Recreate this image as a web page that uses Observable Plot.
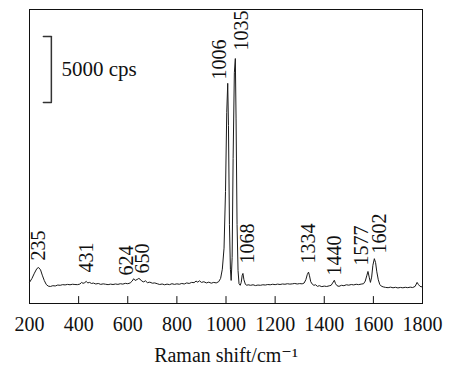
<!DOCTYPE html>
<html><head><meta charset="utf-8">
<script src="https://cdn.jsdelivr.net/npm/d3@7"></script>
<script src="https://cdn.jsdelivr.net/npm/@observablehq/plot@0.6"></script>
<style>body{margin:0;background:#fff} svg text{font-family:"Liberation Serif","DejaVu Serif",serif !important;}</style>
</head><body><div id="chart"></div>
<script>
// Raman spectrum: shift (cm^-1) and intensity (cps)
const shift = [200,210,220,230,237,245,252,260,268,276,285,295,305,315,325,335,345,355,365,375,385,395,405,412,418,425,431,437,445,452,460,470,480,490,500,510,520,530,540,550,560,570,580,590,600,610,618,624,630,638,645,650,657,665,672,680,690,700,710,720,730,740,750,760,770,780,790,800,810,820,830,840,850,860,870,878,885,892,900,910,920,930,940,950,960,970,978,985,992,998,1003,1007,1010,1014,1018,1021,1025,1029,1034,1038,1041,1045,1049,1053,1058,1062,1066,1069,1073,1079,1085,1090,1100,1110,1120,1130,1140,1150,1160,1170,1180,1190,1200,1210,1220,1230,1240,1250,1260,1270,1280,1290,1300,1310,1318,1325,1331,1336,1340,1345,1352,1358,1365,1372,1380,1390,1400,1410,1420,1428,1434,1441,1446,1452,1460,1470,1480,1490,1500,1510,1520,1530,1540,1550,1560,1567,1573,1578,1583,1588,1593,1598,1604,1609,1614,1620,1626,1632,1640,1650,1660,1670,1680,1690,1700,1710,1720,1730,1740,1750,1760,1770,1778,1783,1790,1800];
const intensity = [1600,1900,2300,2650,2730,2550,2150,1750,1450,1320,1290,1350,1330,1400,1380,1430,1410,1450,1420,1460,1440,1430,1470,1600,1530,1580,1680,1560,1600,1520,1550,1480,1520,1450,1490,1460,1430,1470,1440,1480,1450,1500,1470,1530,1500,1560,1700,1880,1750,1820,1900,1850,1700,1640,1720,1580,1620,1540,1560,1500,1440,1480,1420,1470,1430,1500,1450,1490,1460,1520,1480,1560,1520,1600,1580,1700,1620,1720,1600,1650,1560,1620,1540,1600,1560,1650,1900,2600,4200,8500,14500,16700,13500,6000,2600,1750,3500,11000,17500,18580,14000,6000,2500,1500,1380,1600,2150,2280,1800,1450,1380,1420,1380,1420,1360,1400,1380,1420,1400,1440,1420,1460,1430,1470,1440,1480,1460,1500,1470,1490,1520,1480,1510,1490,1550,1800,2200,2380,2100,1650,1450,1380,1420,1300,1350,1280,1320,1290,1340,1380,1550,1760,1500,1350,1300,1380,1350,1420,1390,1440,1410,1460,1430,1470,1500,1700,2100,2430,2000,1600,2000,2900,3400,3100,2400,1800,1450,1320,1260,1220,1200,1240,1190,1230,1180,1220,1190,1230,1200,1240,1210,1300,1600,1450,1300,1250];

const peakLabels = ["235","431","624","650","1006","1035","1068","1334","1440","1577","1602"];
const labelShift = [238, 431, 597, 662, 972, 1063, 1087, 1335, 1443, 1552, 1625];
const labelIntensity = [3260, 2350, 2130, 2280, 16990, 19190, 3030, 3030, 2120, 2880, 3790];

const xTicks = [200, 400, 600, 800, 1000, 1200, 1400, 1600, 1800];
const scaleBarValue = 5000; // cps
const scaleBarText = "5000 cps";

const spectrum = shift.map((s, i) => ({shift: s, intensity: intensity[i]}));
const labels = peakLabels.map((t, i) => ({text: t, x: labelShift[i], y: labelIntensity[i]}));

const FONT = "Liberation Serif, DejaVu Serif, serif";
const barX = 289, barTop = 20250, barBottom = barTop - scaleBarValue;
const lineShape = {draw(ctx, l) { ctx.moveTo(0, 0); ctx.lineTo(0, -l); }};
const capShape = {draw(ctx, l) { ctx.moveTo(0, l / 2); ctx.lineTo(0, -l / 2); }};

const chart = Plot.plot({
  width: 474,
  height: 381,
  marginLeft: 29,
  marginRight: 52,
  marginTop: 9,
  marginBottom: 78,
  style: {fontFamily: FONT, fontSize: "20px", color: "#111", background: "#fff"},
  x: {domain: [200, 1800]},
  y: {domain: [0, 22300], axis: null},
  marks: [
    Plot.frame({stroke: "#111", strokeWidth: 1}),
    Plot.vector(xTicks, {x: d => d, y: 0, length: 7, rotate: 0, anchor: "start", shape: lineShape, stroke: "#111", strokeWidth: 1}),
    Plot.axisX(xTicks, {tickSize: 0, tickPadding: 13, fontSize: 20, fontFamily: FONT, tickFormat: d => String(d), label: "Raman shift/cm⁻¹", labelAnchor: "center", labelOffset: 58, labelArrow: "none"}),
    Plot.line(spectrum, {x: "shift", y: "intensity", stroke: "#1a1a1a", strokeWidth: 1}),
    Plot.text(labels, {x: "x", y: "y", text: "text", rotate: -90, textAnchor: "start", fontSize: 20, fontFamily: FONT, fill: "#111"}),
    Plot.ruleX([barX], {y1: barBottom, y2: barTop, stroke: "#333", strokeWidth: 1.5}),
    Plot.vector([barBottom, barTop], {x: barX, y: d => d, length: 8, rotate: 90, anchor: "middle", shape: capShape, stroke: "#333", strokeWidth: 1.5}),
    Plot.text([scaleBarText], {x: 330, y: (barTop + barBottom) / 2, text: d => d, textAnchor: "start", fontSize: 21, fontFamily: FONT, fill: "#111"})
  ]
});
document.getElementById("chart").appendChild(chart);
</script>
</body></html>
